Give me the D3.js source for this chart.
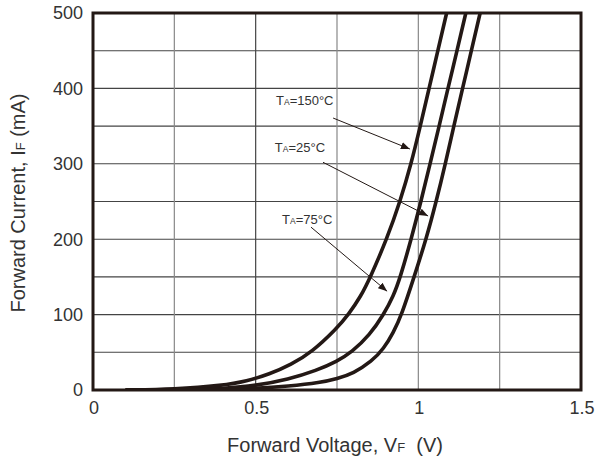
<!DOCTYPE html>
<html>
<head>
<meta charset="utf-8">
<script src="https://cdn.jsdelivr.net/npm/d3@7"></script>
<style>
  body { margin: 0; background: #fff; }
  svg { display: block; font-family: "Liberation Sans", Arial, sans-serif; }
</style>
</head>
<body>
<div id="chart"></div>
<script>
// Forward voltage (V) vs forward current (mA)
const volts150 = [0.10, 0.25, 0.40, 0.472, 0.542, 0.609, 0.672, 0.750, 0.785, 0.823, 0.853, 0.903, 0.944, 0.978, 1.006, 1.033, 1.060, 1.087];
const ma150    = [0, 1, 6, 11.7, 20.9, 33.8, 50, 82, 100, 124, 150, 200, 250, 300, 350, 400, 450, 500];

const volts75 = [0.10, 0.30, 0.40, 0.50, 0.60, 0.688, 0.75, 0.795, 0.851, 0.893, 0.923, 0.945, 0.978, 1.008, 1.036, 1.064, 1.091, 1.119, 1.146];
const ma75    = [0, 0.5, 2, 5.7, 14, 26, 38, 50, 73, 100, 124, 150, 200, 250, 300, 350, 400, 450, 500];

const volts25 = [0.10, 0.35, 0.50, 0.60, 0.70, 0.75, 0.80, 0.857, 0.894, 0.923, 0.949, 0.987, 1.024, 1.055, 1.083, 1.109, 1.136, 1.163, 1.190];
const ma25    = [0, 0.4, 2, 5, 10, 15, 22, 38, 55, 76, 100, 150, 200, 250, 300, 350, 400, 450, 500];

const xTicks = [0, 0.5, 1, 1.5];
const xTickLabels = ["0", "0.5", "1", "1.5"];
const yTicks = [0, 100, 200, 300, 400, 500];
const xGrid = [0.25, 0.5, 0.75, 1, 1.25];
const yGrid = [50, 100, 150, 200, 250, 300, 350, 400, 450];

// annotation labels: temperature, label anchor (V, mA), arrow from/to (V, mA)
const labelTemps = ["150", "25", "75"];
const labelAt = [[0.5625, 384.6], [0.559, 322], [0.581, 226.8]];
const arrowFrom = [[0.738, 360.7], [0.707, 302], [0.670, 216]];
const arrowTo = [[0.974, 319.6], [1.030, 230.8], [0.904, 131]];

const W = 598, H = 464;
const ink = "#231815";

const x = d3.scaleLinear().domain([0, 1.5]).range([93, 581]);
const y = d3.scaleLinear().domain([0, 500]).range([390, 13]);

const svg = d3.select("#chart").append("svg")
    .attr("width", W)
    .attr("height", H)
    .attr("viewBox", `0 0 ${W} ${H}`);

svg.append("defs").append("clipPath")
    .attr("id", "plot")
  .append("rect")
    .attr("x", x(0)).attr("y", y(500))
    .attr("width", x(1.5) - x(0)).attr("height", y(0) - y(500));

svg.select("defs").append("marker")
    .attr("id", "arrow")
    .attr("viewBox", "0 -5 10 10")
    .attr("refX", 10)
    .attr("refY", 0)
    .attr("markerWidth", 9)
    .attr("markerHeight", 9)
    .attr("markerUnits", "userSpaceOnUse")
    .attr("orient", "auto")
  .append("path")
    .attr("d", "M0,-4L10,0L0,4Z")
    .attr("fill", ink);

// grid
svg.append("g").selectAll("line")
  .data(yGrid)
  .join("line")
    .attr("x1", x(0)).attr("x2", x(1.5))
    .attr("y1", d => y(d)).attr("y2", d => y(d))
    .attr("stroke", "#444")
    .attr("stroke-width", 1.1);

svg.append("g").selectAll("line")
  .data(xGrid)
  .join("line")
    .attr("x1", d => x(d)).attr("x2", d => x(d))
    .attr("y1", y(0)).attr("y2", y(500))
    .attr("stroke", d => d === 0.5 ? "#444" : "#888")
    .attr("stroke-width", 1.2);

// curves
const line = d3.line()
    .x(d => x(d[0]))
    .y(d => y(d[1]))
    .curve(d3.curveBasis);

const series = [
  d3.zip(volts150, ma150),
  d3.zip(volts75, ma75),
  d3.zip(volts25, ma25)
];

svg.append("g")
    .attr("clip-path", "url(#plot)")
  .selectAll("path")
  .data(series)
  .join("path")
    .attr("d", line)
    .attr("fill", "none")
    .attr("stroke", ink)
    .attr("stroke-width", 3.6)
    .attr("stroke-linejoin", "round");

// frame
svg.append("rect")
    .attr("x", x(0)).attr("y", y(500))
    .attr("width", x(1.5) - x(0)).attr("height", y(0) - y(500))
    .attr("fill", "none")
    .attr("stroke", ink)
    .attr("stroke-width", 3);

// annotations
const notes = svg.append("g");
labelTemps.forEach((t, i) => {
  notes.append("line")
      .attr("x1", x(arrowFrom[i][0])).attr("y1", y(arrowFrom[i][1]))
      .attr("x2", x(arrowTo[i][0])).attr("y2", y(arrowTo[i][1]))
      .attr("stroke", ink)
      .attr("stroke-width", 1)
      .attr("marker-end", "url(#arrow)");

  const txt = notes.append("text")
      .attr("x", x(labelAt[i][0]))
      .attr("y", y(labelAt[i][1]))
      .attr("dy", "0.36em")
      .attr("font-size", 13)
      .attr("fill", "#333");
  txt.append("tspan").text("T");
  txt.append("tspan").attr("font-size", 8.5).text("A");
  txt.append("tspan").text(`=${t}°C`);
});

// tick labels
svg.append("g").selectAll("text")
  .data(yTicks)
  .join("text")
    .attr("x", 83)
    .attr("y", d => y(d))
    .attr("dy", "0.36em")
    .attr("text-anchor", "end")
    .attr("font-size", 18)
    .attr("fill", "#333")
    .text(d => d);

svg.append("g").selectAll("text")
  .data(xTicks)
  .join("text")
    .attr("x", d => x(d) + 1)
    .attr("y", 408)
    .attr("dy", "0.36em")
    .attr("text-anchor", "middle")
    .attr("font-size", 18)
    .attr("fill", "#333")
    .text((d, i) => xTickLabels[i]);

// axis titles
const xTitle = svg.append("text")
    .attr("x", 335)
    .attr("y", 452)
    .attr("text-anchor", "middle")
    .attr("font-size", 20)
    .attr("fill", "#333")
    .attr("xml:space", "preserve");
xTitle.append("tspan").text("Forward Voltage, V");
xTitle.append("tspan").attr("font-size", 13).text("F");
xTitle.append("tspan").text("  (V)");

const yTitle = svg.append("text")
    .attr("transform", "translate(25,203) rotate(-90)")
    .attr("text-anchor", "middle")
    .attr("font-size", 20)
    .attr("fill", "#333")
    .attr("xml:space", "preserve");
yTitle.append("tspan").text("Forward Current, I");
yTitle.append("tspan").attr("font-size", 13).text("F");
yTitle.append("tspan").text(" (mA)");
</script>
</body>
</html>
